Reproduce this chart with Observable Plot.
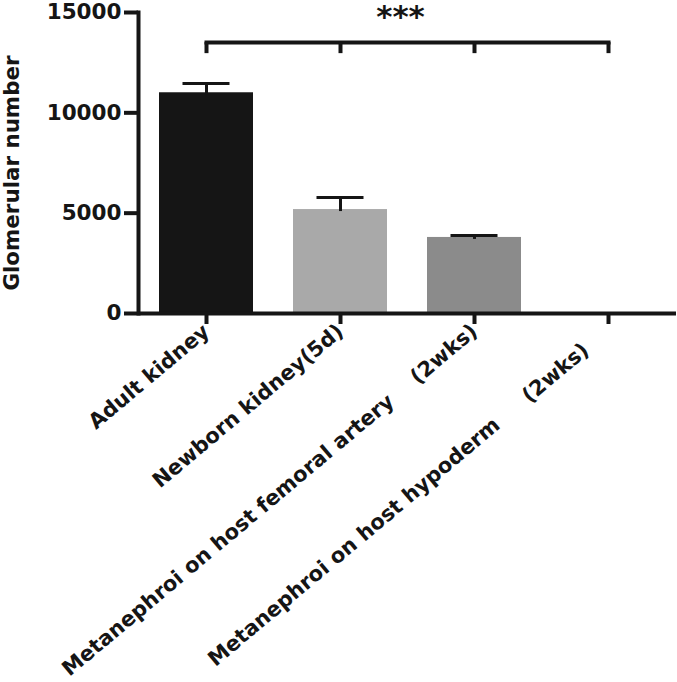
<!DOCTYPE html>
<html><head><meta charset="utf-8">
<script src="https://cdn.jsdelivr.net/npm/d3@7"></script>
<script src="https://cdn.jsdelivr.net/npm/@observablehq/plot@0.6"></script>
<style>
body{margin:0;background:#fff}
#chart svg{font-family:"DejaVu Sans",sans-serif;}
</style>
</head><body><div id="chart"></div>
<script>
const categories = [
  "Adult kidney",
  "Newborn kidney(5d)",
  "Metanephroi on host femoral artery\u00a0\u00a0\u00a0\u00a0(2wks)",
  "Metanephroi on host hypoderm\u00a0\u00a0\u00a0\u00a0\u00a0(2wks)\u00a0\u00a0\u00a0\u00a0"
];
const means = [11000, 5180, 3790, 0];
const errTops = [11460, 5780, 3890, null];
const barColors = ["#151515", "#a9a9a9", "#8b8b8b", "#ffffff"];
const yTicks = [0, 5000, 10000, 15000];
const bracketTop = 13500;
const bracketDrop = 12950;
const sigLabel = "***";
const yLabel = "Glomerular number";

const data = categories.map((c, i) => ({cat: c, mean: means[i], err: errTops[i]}));
const errData = data.filter(d => d.err != null);
const ink = "#151515";

const chart = Plot.plot({
  width: 677,
  height: 682,
  marginTop: 12,
  marginBottom: 369,
  marginLeft: 138,
  marginRight: 1,
  style: {fontFamily: "DejaVu Sans, sans-serif", color: ink, background: "#fff"},
  x: {domain: categories, paddingInner: 0.3, paddingOuter: 0.146},
  y: {domain: [0, 15000]},
  color: {domain: categories, range: barColors},
  marks: [
    Plot.barY(data, {x: "cat", y: "mean", fill: "cat"}),
    Plot.ruleX(errData, {x: "cat", y1: d => d.mean - 100, y2: "err", stroke: ink, strokeWidth: 3}),
    Plot.tickY(errData, {x: "cat", y: "err", stroke: ink, strokeWidth: 3, inset: 23.5}),
    Plot.line(data, {x: "cat", y: () => bracketTop, stroke: ink, strokeWidth: 4, strokeLinecap: "square"}),
    Plot.ruleX(data, {x: "cat", y1: bracketDrop, y2: bracketTop, stroke: ink, strokeWidth: 4}),
    Plot.text([sigLabel], {text: d => d, frameAnchor: "top", lineAnchor: "top", dx: -7, dy: -8, fontSize: 31, fontWeight: "bold", fill: ink}),
    Plot.axisY({ticks: yTicks, tickFormat: d => String(d), tickSize: 14, tickPadding: 3, fontSize: 21.5, fontWeight: "bold", strokeWidth: 4, label: null}),
    Plot.axisX({tickSize: 11, tickPadding: 4, tickRotate: -40, fontSize: 21, fontWeight: "bold", strokeWidth: 4, label: null}),
    Plot.frame({anchor: "left", stroke: ink, strokeWidth: 4}),
    Plot.ruleY([0], {stroke: ink, strokeWidth: 4}),
    Plot.text([yLabel], {text: d => d, frameAnchor: "left", textAnchor: "middle", rotate: -90, lineAnchor: "top", dx: -135, dy: 10, fontSize: 21.4, fontWeight: "bold", fill: ink})
  ]
});
document.getElementById("chart").appendChild(chart);
</script>
</body></html>
